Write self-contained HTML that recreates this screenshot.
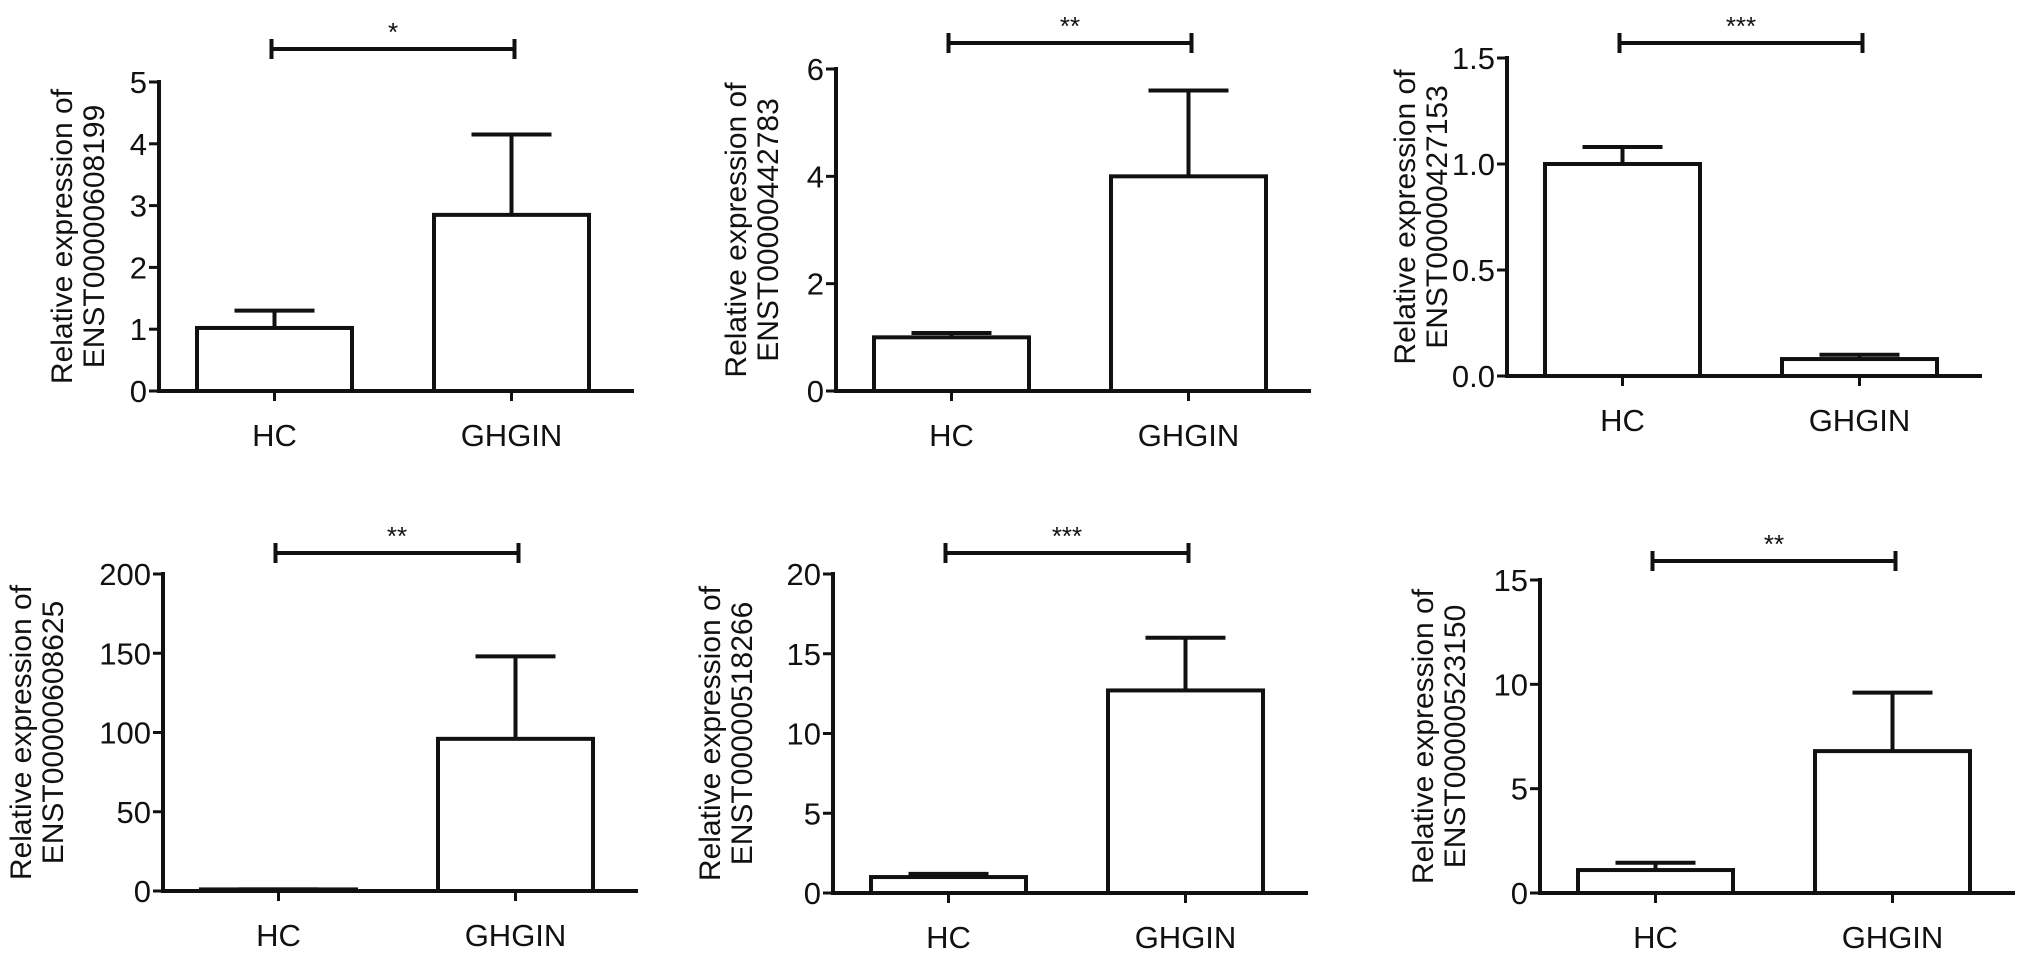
<!DOCTYPE html>
<html><head><meta charset="utf-8"><style>
body{margin:0;background:#fff}
svg text{font-family:"Liberation Sans",Arial,sans-serif;fill:#111}
</style></head><body>
<svg id="fig" width="2032" height="958" viewBox="0 0 2032 958" xmlns="http://www.w3.org/2000/svg"></svg>
<script>
const categories = ["HC","GHGIN"];
const genes = ["ENST00000608199","ENST00000442783","ENST00000427153","ENST00000608625","ENST00000518266","ENST00000523150"];
const meanHC = [1.02, 1.0, 1.0, 1.0, 1.0, 1.1];
const errHC = [1.3, 1.08, 1.08, 1.0, 1.2, 1.45];
const meanGH = [2.85, 4.0, 0.08, 96, 12.7, 6.8];
const errGH = [4.15, 5.6, 0.1, 148, 16, 9.6];
const yMax = [5, 6, 1.5, 200, 20, 15];
const yStep = [1, 2, 0.5, 50, 5, 5];
const yDecimals = [0, 0, 1, 0, 0, 0];
const sigLabels = ["*","**","***","**","***","**"];
// layout
const panels = [
 {ax:159, top:82, zero:391, sig:49, t:66},
 {ax:836, top:69, zero:391, sig:43, t:69},
 {ax:1507, top:58, zero:376, sig:43, t:71},
 {ax:163, top:574, zero:891, sig:553, t:111},
 {ax:833, top:574, zero:893, sig:553, t:92},
 {ax:1540, top:580, zero:893, sig:561, t:86}
];
const NS="http://www.w3.org/2000/svg";
const svg=document.getElementById('fig');
function mk(tag,attrs,parent){const e=document.createElementNS(NS,tag);for(const k in attrs)e.setAttribute(k,attrs[k]);(parent||svg).appendChild(e);return e;}
const LW=4;
panels.forEach((p,i)=>{
  const g=mk('g',{});
  
  
  const y=v=>p.zero-(v/yMax[i])*(p.zero-p.top);
  const A=p.ax;
  const xs=[A+38,A+275], bw=155;
  const cx=xs.map(x=>x+bw/2);
  const ya=mk('line',{x1:A,y1:p.top-2,x2:A,y2:p.zero+2,stroke:'#111','stroke-width':LW},g);
  
  
  const xa=mk('line',{x1:A-2,y1:p.zero,x2:A+475,y2:p.zero,stroke:'#111','stroke-width':LW},g);
  
  
  for(let v=0;v<=yMax[i]+1e-9;v+=yStep[i]){
    const yy=y(v);
    mk('line',{x1:A-10,y1:yy,x2:A,y2:yy,stroke:'#111','stroke-width':3},g);
    const t=mk('text',{x:A-12,y:yy+11,'text-anchor':'end','font-size':31},g);
    t.textContent=v.toFixed(yDecimals[i]);
    
    
  }
  const midY=(p.top+p.zero)/2;
  const tt=mk('text',{transform:`translate(${A-p.t},${midY}) rotate(-90)`,'text-anchor':'middle','font-size':30},g);
  
  
  const s1=mk('tspan',{x:0,y:-21},tt); s1.textContent='Relative expression of';
  const s2=mk('tspan',{x:0,y:11},tt); s2.textContent=genes[i];
  const means=[meanHC[i],meanGH[i]], errs=[errHC[i],errGH[i]];
  categories.forEach((c,j)=>{
    const eb=mk('g',{},g);
    
    
    mk('line',{x1:cx[j],y1:y(means[j]),x2:cx[j],y2:y(errs[j]),stroke:'#111','stroke-width':LW},eb);
    mk('line',{x1:cx[j]-40,y1:y(errs[j]),x2:cx[j]+40,y2:y(errs[j]),stroke:'#111','stroke-width':LW},eb);
    const h=Math.max(p.zero-y(means[j]),0.5);
    const r=mk('rect',{x:xs[j],y:p.zero-h,width:bw,height:h,fill:'#fff',stroke:'#111','stroke-width':LW},g);
    
    
    mk('line',{x1:cx[j],y1:p.zero,x2:cx[j],y2:p.zero+10,stroke:'#111','stroke-width':3},g);
    const lt=mk('text',{x:cx[j],y:p.zero+55,'text-anchor':'middle','font-size':31},g);
    lt.textContent=c;
    
    
  });
  const sg=mk('g',{},g);
  
  
  mk('line',{x1:cx[0]-3,y1:p.sig,x2:cx[1]+3,y2:p.sig,stroke:'#111','stroke-width':LW},sg);
  mk('line',{x1:cx[0]-3,y1:p.sig-10,x2:cx[0]-3,y2:p.sig+10,stroke:'#111','stroke-width':LW},sg);
  mk('line',{x1:cx[1]+3,y1:p.sig-10,x2:cx[1]+3,y2:p.sig+10,stroke:'#111','stroke-width':LW},sg);
  const st=mk('text',{x:(cx[0]+cx[1])/2,y:p.sig-8,'text-anchor':'middle','font-size':26},sg);
  st.textContent=sigLabels[i];
  
  
});
</script>
</body></html>
